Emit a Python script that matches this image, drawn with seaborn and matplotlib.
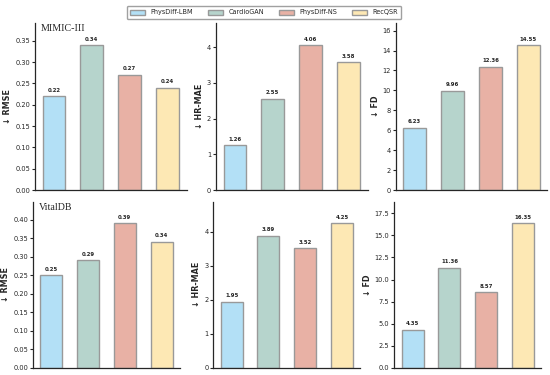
import matplotlib
matplotlib.use("Agg")
import matplotlib.pyplot as plt
import matplotlib.patches as mpatches
from matplotlib.ticker import MultipleLocator
import pandas as pd
import seaborn as sns

models = ["PhysDiff-LBM", "CardioGAN", "PhysDiff-NS", "RecQSR"]
colors = ["#B3E0F6", "#B6D4CC", "#E8B1A5", "#FDE8B4"]
metrics = ["\u2193 RMSE", "\u2193 HR-MAE", "\u2193 FD"]
datasets = ["MIMIC-III", "VitalDB"]

mimic_rmse = [0.22, 0.34, 0.27, 0.24]
mimic_hrmae = [1.26, 2.55, 4.06, 3.58]
mimic_fd = [6.23, 9.96, 12.36, 14.55]
vital_rmse = [0.25, 0.29, 0.39, 0.34]
vital_hrmae = [1.95, 3.89, 3.52, 4.25]
vital_fd = [4.35, 11.36, 8.57, 16.35]

values = [
    [mimic_rmse, mimic_hrmae, mimic_fd],
    [vital_rmse, vital_hrmae, vital_fd],
]
# y tick step per panel
tick_steps = [
    [0.05, 1, 2],
    [0.05, 1, 2.5],
]

sns.set_style("ticks")
plt.rcParams["font.family"] = ["DejaVu Sans"]

W, H = 550, 375
fig, axes = plt.subplots(2, 3, figsize=(5.5, 3.75), dpi=100)

row_boxes = [
    ([35, 216, 395.7], 23.3, 151.5, 166.7),
    ([33, 213.3, 394.3], 201.7, 147, 166.3),
]

for r, ds in enumerate(datasets):
    lefts, top, width, height = row_boxes[r]
    for c, metric in enumerate(metrics):
        ax = axes[r, c]
        ax.set_position([lefts[c] / W, 1 - (top + height) / H,
                         width / W, height / H])
        vals = values[r][c]
        df = pd.DataFrame({"Model": models, "Value": vals})
        sns.barplot(data=df, x="Model", y="Value", hue="Model",
                    palette=colors, legend=False, width=0.6, saturation=1,
                    edgecolor="#999999", linewidth=1.0, ax=ax)
        for bar, v in zip(ax.patches, vals):
            ax.annotate(f"{v:.2f}", (bar.get_x() + bar.get_width() / 2, v),
                        xytext=(0, 2.5), textcoords="offset points",
                        ha="center", va="bottom", fontsize=3.9,
                        fontweight="bold")
        ax.set_xlim(-0.5, 3.5)
        ax.set_ylim(0, max(vals) * 1.15)
        ax.yaxis.set_major_locator(MultipleLocator(tick_steps[r][c]))
        ax.set_xlabel("")
        ax.set_ylabel(metric, fontsize=5.8, fontweight="bold", labelpad=2)
        ax.set_xticks([])
        ax.tick_params(axis="y", labelsize=4.8, length=2, width=0.8, pad=1.5)
        for side in ["left", "bottom"]:
            ax.spines[side].set_linewidth(0.9)
        sns.despine(ax=ax)
        if c == 0:
            ax.text(0.04, 0.995, ds, transform=ax.transAxes, ha="left",
                    va="top", fontsize=7.2, family="Liberation Serif")

handles = [mpatches.Patch(facecolor=col, edgecolor="#999999", label=m)
           for m, col in zip(models, colors)]
fig.legend(handles=handles, loc="upper center", bbox_to_anchor=(0.48, 0.993),
           ncol=4, fontsize=4.7, frameon=True, handlelength=2.3,
           handleheight=0.9, columnspacing=2.3, borderpad=0.55,
           edgecolor="#888888", fancybox=True)

fig.savefig("out.png", dpi=100)
